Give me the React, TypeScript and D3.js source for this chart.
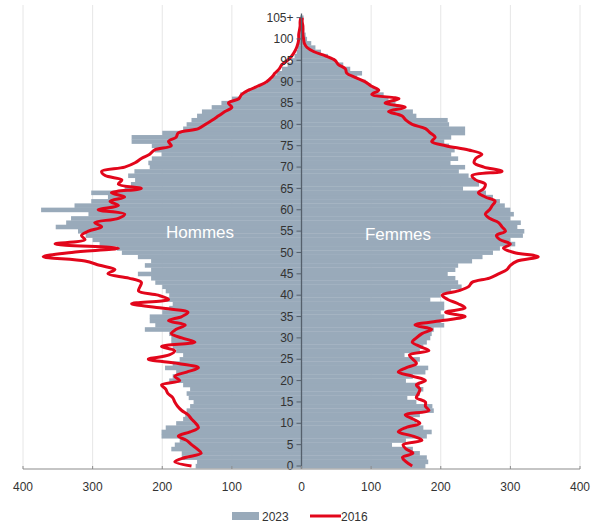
import React from "react";
import * as d3 from "d3";

const ages: number[] = d3.range(0, 106);
const ageTicks: number[] = d3.range(0, 106, 5);
const ageTickLabels: string[] = ageTicks.map((a) => (a === 105 ? "105+" : String(a)));
const xTicks: number[] = [-400, -300, -200, -100, 0, 100, 200, 300, 400];

// Hommes 2023 (bars), ages 0..105
const men2023: number[] = [
  152, 150, 172, 172, 187, 182, 175, 201, 201, 195,
  180, 170, 167, 165, 160, 155, 162, 165, 160, 170,
  190, 185, 180, 196, 185, 175, 170, 180, 185, 187,
  187, 190, 225, 210, 218, 218, 200, 190, 185, 195,
  190, 195, 200, 210, 216, 235, 216, 225, 216, 235,
  258, 265, 290, 300, 310, 321, 353, 338, 331, 306,
  374, 326, 302, 278, 302, 254, 245, 239, 249, 240,
  218, 220, 215, 201, 211, 215, 244, 244, 200, 170,
  165, 158, 150, 143, 129, 115, 100, 88, 76, 62,
  50, 42, 36, 28, 20, 14, 10, 7, 5, 4,
  4, 3, 2, 1, 1, 2,
];
// Femmes 2023 (bars)
const women2023: number[] = [
  178, 182, 180, 170, 160, 130, 150, 180, 187, 175,
  165, 160, 170, 190, 188, 165, 152, 170, 175, 170,
  150, 160, 178, 182, 165, 170, 148, 170, 175, 180,
  185, 187, 190, 205, 200, 205, 200, 205, 205, 185,
  200, 215, 230, 225, 221, 210, 221, 225, 245, 260,
  275, 285, 307, 300, 318, 320, 310, 315, 300, 305,
  300, 292, 285, 275, 265, 232, 255, 250, 240, 226,
  235, 214, 225, 215, 220, 212, 205, 215, 235, 235,
  212, 210, 165, 160, 145, 135, 125, 118, 110, 100,
  92, 80, 87, 70, 60, 48, 38, 28, 20, 14,
  8, 6, 4, 3, 2, 3,
];
// Hommes 2016 (line)
const men2016: number[] = [
  158, 182, 167, 144, 150, 158, 165, 177, 160, 148,
  152, 158, 163, 172, 178, 182, 185, 192, 195, 201,
  175, 182, 165, 148, 177, 220, 190, 182, 201, 153,
  172, 187, 180, 167, 191, 172, 163, 201, 244, 191,
  206, 234, 232, 230, 248, 278, 268, 290, 311, 371,
  330, 263, 354, 311, 316, 306, 287, 297, 263, 254,
  292, 263, 275, 254, 273, 230, 263, 258, 282, 287,
  254, 239, 230, 218, 211, 187, 191, 180, 177, 148,
  138, 128, 119, 110, 100, 105, 90, 86, 76, 62,
  50, 43, 38, 32, 28, 20, 14, 10, 7, 5,
  4, 4, 3, 2, 2, 1,
];
// Femmes 2016 (line)
const women2016: number[] = [
  159, 150, 145, 160, 150, 146, 173, 160, 139, 150,
  170, 160, 149, 183, 178, 178, 165, 168, 170, 165,
  178, 160, 139, 150, 165, 160, 155, 183, 170, 159,
  165, 173, 187, 163, 200, 235, 207, 235, 225, 210,
  202, 225, 240, 245, 270, 283, 295, 300, 310, 340,
  305, 290, 300, 285, 280, 293, 288, 283, 270, 264,
  270, 274, 278, 264, 254, 262, 264, 250, 245, 288,
  262, 248, 250, 259, 240, 207, 187, 192, 185, 178,
  159, 150, 144, 125, 149, 120, 140, 101, 111, 100,
  91, 77, 65, 63, 53, 48, 35, 18, 8, 4,
  3, 2, 2, 2, 1, 1,
];

const W = 603;
const H = 524;
const BAR = "#99aaba";
const RED = "#e2061b";
const FONT = "'Liberation Sans', Arial, sans-serif";

export default function App() {
  const x = d3.scaleLinear().domain([-400, 400]).range([23, 580]);
  const y = d3.scaleLinear().domain([0, 105]).range([466, 17.6]);
  const bh = Math.abs(y(0) - y(1));

  const menPts: [number, number][] = ages.map((a, i) => [x(-men2016[i]), y(a)]);
  const womenPts: [number, number][] = ages.map((a, i) => [x(women2016[i]), y(a)]);
  const line2 = d3.line().curve(d3.curveCatmullRom.alpha(0.5));

  const axisY = 469;
  return (
    <svg
      width={W}
      height={H}
      style={{ position: "absolute", left: 0, top: 0, background: "#fff" }}
      fontFamily={FONT}
    >
      {/* gridlines */}
      {xTicks
        .filter((t) => t !== 0)
        .map((t) => (
          <line key={"g" + t} x1={x(t)} x2={x(t)} y1={5} y2={axisY} stroke="#e6e6e6" strokeWidth={1} />
        ))}
      {/* bars */}
      {ages.map((a, i) => (
        <rect
          key={"m" + a}
          x={x(-men2023[i])}
          y={y(a) - bh / 2}
          width={x(0) - x(-men2023[i])}
          height={bh + 0.3}
          fill={BAR}
        />
      ))}
      {ages.map((a, i) => (
        <rect
          key={"f" + a}
          x={x(0)}
          y={y(a) - bh / 2}
          width={x(women2023[i]) - x(0)}
          height={bh + 0.3}
          fill={BAR}
        />
      ))}
      {/* 2016 lines */}
      <path d={line2(menPts) || ""} fill="none" stroke={RED} strokeWidth={3} strokeLinejoin="round" />
      <path d={line2(womenPts) || ""} fill="none" stroke={RED} strokeWidth={3} strokeLinejoin="round" />
      {/* center axis */}
      <line x1={x(0)} x2={x(0)} y1={y(105) - 4} y2={axisY} stroke="#55606c" strokeWidth={1.3} />
      {ageTicks.map((a, i) => (
        <g key={"at" + a}>
          <line x1={x(0) - 5} x2={x(0)} y1={y(a)} y2={y(a)} stroke="#55606c" strokeWidth={1} />
          <text x={x(0) - 8} y={y(a)} dy="0.35em" textAnchor="end" fontSize={12} fill="#333">
            {ageTickLabels[i]}
          </text>
        </g>
      ))}
      {/* bottom axis */}
      <line x1={x(-400)} x2={x(400)} y1={axisY} y2={axisY} stroke="#8c8c8c" strokeWidth={1.2} />
      {xTicks.map((t) => (
        <g key={"xt" + t}>
          <line x1={x(t)} x2={x(t)} y1={axisY - 3} y2={axisY} stroke="#8c8c8c" strokeWidth={1} />
          <text x={x(t)} y={491} textAnchor="middle" fontSize={12} fill="#333">
            {Math.abs(t)}
          </text>
        </g>
      ))}
      {/* labels */}
      <text x={200} y={232} dy="0.35em" textAnchor="middle" fontSize={17} fill="#fff">
        Hommes
      </text>
      <text x={398} y={234} dy="0.35em" textAnchor="middle" fontSize={17} fill="#fff">
        Femmes
      </text>
      {/* legend */}
      <rect x={232} y={512} width={27} height={8} fill={BAR} />
      <text x={262} y={521} fontSize={12} fill="#333">
        2023
      </text>
      <line x1={310} x2={341} y1={516} y2={516} stroke={RED} strokeWidth={3} />
      <text x={341} y={521} fontSize={12} fill="#333">
        2016
      </text>
    </svg>
  );
}
